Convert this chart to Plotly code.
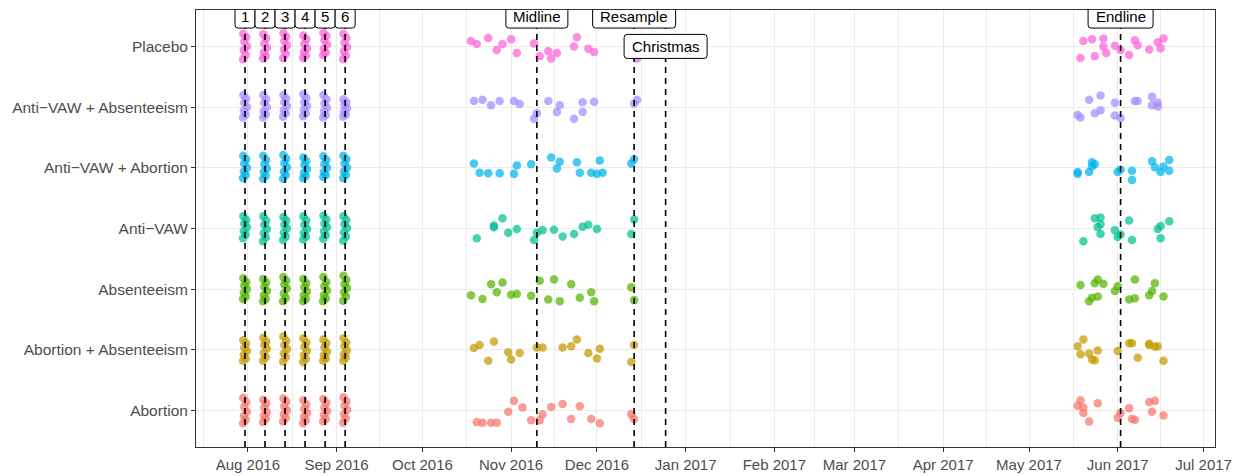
"""Jittered survey-visit timeline by treatment arm, with event markers."""

import pandas as pd
import plotly.graph_objects as go

# ── Data ─────────────────────────────────────────────────────────────────────
CATEGORIES = [
    "Abortion",
    "Abortion + Absenteeism",
    "Absenteeism",
    "Anti\u2212VAW",
    "Anti\u2212VAW + Abortion",
    "Anti\u2212VAW + Absenteeism",
    "Placebo",
]
COLORS = ["#F8766D", "#C49A00", "#53B400", "#00C094", "#00B6EB", "#A58AFF", "#FB61D7"]

EPISODE_DATES = ["2016-07-31", "2016-08-07", "2016-08-14", "2016-08-21", "2016-08-28", "2016-09-04"]
EVENT_LABELS = ["1", "2", "3", "4", "5", "6", "Midline", "Resample", "Christmas", "Endline"]
EVENT_DATES = EPISODE_DATES + ["2016-11-10", "2016-12-14", "2016-12-25", "2017-06-02"]

# small horizontal spread (hours) of the 7 screening visits in each episode column
EPISODE_HOURS = [-14, 10, -6, 16, -10, 6, -16]

# vertical jitter of the screening visits, one list per episode
ABORTION_EPISODES = [
    [0.21, 0.14, 0.06, -0.02, -0.09, -0.15, -0.21],
    [0.18, 0.12, 0.05, -0.03, -0.08, -0.14, -0.19],
    [0.2, 0.15, 0.07, 0.0, -0.06, -0.12, -0.18],
    [0.17, 0.1, 0.03, -0.04, -0.1, -0.16, -0.21],
    [0.19, 0.13, 0.05, -0.01, -0.07, -0.14, -0.18],
    [0.22, 0.15, 0.08, 0.01, -0.06, -0.13, -0.2],
]
ABO_ABS_EPISODES = [
    [0.16, 0.1, 0.04, -0.02, -0.08, -0.14, -0.18],
    [0.2, 0.14, 0.08, 0.02, -0.05, -0.12, -0.18],
    [0.22, 0.15, 0.08, 0.01, -0.06, -0.12, -0.19],
    [0.19, 0.12, 0.05, -0.02, -0.09, -0.15, -0.2],
    [0.17, 0.11, 0.04, -0.03, -0.09, -0.14, -0.18],
    [0.19, 0.12, 0.06, -0.01, -0.07, -0.13, -0.18],
]
ABSENTEEISM_EPISODES = [
    [0.18, 0.12, 0.06, 0.0, -0.06, -0.12, -0.16],
    [0.17, 0.11, 0.04, -0.03, -0.1, -0.16, -0.2],
    [0.2, 0.14, 0.08, 0.01, -0.07, -0.14, -0.2],
    [0.17, 0.1, 0.03, -0.04, -0.1, -0.16, -0.2],
    [0.2, 0.12, 0.05, -0.02, -0.1, -0.15, -0.2],
    [0.22, 0.15, 0.08, 0.02, -0.05, -0.12, -0.19],
]
ANTI_VAW_EPISODES = [
    [0.2, 0.14, 0.08, 0.02, -0.04, -0.1, -0.16],
    [0.2, 0.13, 0.06, -0.01, -0.08, -0.15, -0.21],
    [0.19, 0.13, 0.06, 0.0, -0.07, -0.13, -0.19],
    [0.2, 0.13, 0.06, -0.01, -0.07, -0.13, -0.18],
    [0.21, 0.15, 0.08, 0.02, -0.05, -0.11, -0.17],
    [0.2, 0.14, 0.07, 0.01, -0.06, -0.13, -0.2],
]
AVAW_ABO_EPISODES = [
    [0.2, 0.14, 0.07, 0.0, -0.06, -0.12, -0.17],
    [0.2, 0.13, 0.06, -0.01, -0.07, -0.13, -0.18],
    [0.21, 0.15, 0.08, 0.01, -0.06, -0.12, -0.18],
    [0.17, 0.11, 0.05, -0.02, -0.08, -0.13, -0.17],
    [0.19, 0.13, 0.06, 0.0, -0.07, -0.12, -0.15],
    [0.2, 0.14, 0.07, 0.0, -0.06, -0.12, -0.17],
]
AVAW_ABS_EPISODES = [
    [0.2, 0.14, 0.07, 0.0, -0.06, -0.12, -0.17],
    [0.2, 0.13, 0.07, 0.0, -0.07, -0.12, -0.17],
    [0.2, 0.14, 0.08, 0.02, -0.05, -0.1, -0.16],
    [0.21, 0.15, 0.08, 0.02, -0.04, -0.1, -0.15],
    [0.2, 0.13, 0.06, -0.01, -0.07, -0.13, -0.17],
    [0.13, 0.08, 0.03, -0.02, -0.07, -0.12, -0.16],
]
PLACEBO_EPISODES = [
    [0.21, 0.15, 0.08, 0.0, -0.06, -0.14, -0.21],
    [0.2, 0.13, 0.05, -0.02, -0.1, -0.16, -0.2],
    [0.22, 0.16, 0.09, 0.02, -0.05, -0.12, -0.19],
    [0.18, 0.12, 0.04, -0.03, -0.09, -0.15, -0.19],
    [0.22, 0.17, 0.1, 0.03, -0.04, -0.1, -0.14],
    [0.21, 0.14, 0.06, -0.01, -0.08, -0.15, -0.21],
]

# midline + endline visits: date and vertical jitter
ABORTION_DATES = [
    "2016-10-20", "2016-10-22", "2016-10-25", "2016-10-27", "2016-10-31", "2016-11-02",
    "2016-11-05", "2016-11-08", "2016-11-11", "2016-11-12", "2016-11-15", "2016-11-19",
    "2016-11-22", "2016-11-25", "2016-11-29", "2016-12-02", "2016-12-13", "2016-12-14",
    "2017-05-19", "2017-05-18", "2017-05-20", "2017-05-20", "2017-05-22", "2017-05-25",
    "2017-06-01", "2017-06-02", "2017-06-05", "2017-06-06", "2017-06-07", "2017-06-12",
    "2017-06-14", "2017-06-13", "2017-06-17",
]
ABORTION_JITTER = [
    -0.19, -0.2, -0.2, -0.2, -0.02, 0.16, 0.05, -0.16, -0.16, -0.06, 0.06, 0.11,
    -0.14, 0.07, -0.14, -0.21, -0.06, -0.14,
    0.17, 0.08, 0.05, -0.04, -0.18, 0.12, -0.12, -0.04, 0.04, -0.14, -0.15, 0.14,
    0.16, -0.02, -0.08,
]
ABO_ABS_DATES = [
    "2016-10-19", "2016-10-21", "2016-10-24", "2016-10-26", "2016-10-31", "2016-11-01",
    "2016-11-04", "2016-11-10", "2016-11-12", "2016-11-19", "2016-11-22", "2016-11-24",
    "2016-11-28", "2016-12-01", "2016-12-02", "2016-12-13", "2016-12-14",
    "2017-05-18", "2017-05-20", "2017-05-19", "2017-05-22", "2017-05-25", "2017-05-23",
    "2017-05-24", "2017-06-01", "2017-06-05", "2017-06-06", "2017-06-12", "2017-06-12",
    "2017-06-14", "2017-06-15", "2017-06-08", "2017-06-17",
]
ABO_ABS_JITTER = [
    0.03, 0.08, -0.18, 0.14, -0.04, -0.16, -0.05, 0.04, 0.04, 0.04, 0.06, 0.17,
    -0.05, -0.14, 0.02, -0.2, 0.08,
    0.06, 0.17, -0.07, -0.06, -0.01, -0.16, -0.17, -0.02, 0.11, 0.11, 0.1, 0.08,
    0.05, 0.06, -0.13, -0.18,
]
ABSENTEEISM_DATES = [
    "2016-10-18", "2016-10-22", "2016-10-25", "2016-10-27", "2016-10-29", "2016-11-01",
    "2016-11-03", "2016-11-08", "2016-11-11", "2016-11-14", "2016-11-16", "2016-11-18",
    "2016-11-22", "2016-11-25", "2016-11-29", "2016-11-30", "2016-12-13", "2016-12-14",
    "2017-05-19", "2017-05-24", "2017-05-25", "2017-05-27", "2017-05-22", "2017-05-23",
    "2017-05-25", "2017-05-31", "2017-06-01", "2017-06-05", "2017-06-07", "2017-06-07",
    "2017-06-12", "2017-06-13", "2017-06-14", "2017-06-17",
]
ABSENTEEISM_JITTER = [
    -0.1, -0.16, 0.08, -0.05, 0.11, -0.09, -0.08, -0.11, 0.14, -0.17, 0.16, -0.2,
    0.08, -0.14, -0.05, -0.2, 0.03, -0.18,
    0.07, 0.1, 0.16, 0.09, -0.2, -0.14, -0.12, -0.03, 0.05, -0.17, -0.15, 0.16,
    -0.1, -0.03, 0.1, -0.12,
]
ANTI_VAW_DATES = [
    "2016-10-20", "2016-10-26", "2016-10-26", "2016-10-29", "2016-10-31", "2016-11-03",
    "2016-11-09", "2016-11-10", "2016-11-12", "2016-11-16", "2016-11-19", "2016-11-23",
    "2016-11-26", "2016-11-28", "2016-12-01", "2016-12-13", "2016-12-14",
    "2017-05-20", "2017-05-24", "2017-05-26", "2017-05-26", "2017-05-25", "2017-05-26",
    "2017-05-31", "2017-06-01", "2017-06-02", "2017-06-05", "2017-06-06", "2017-06-15",
    "2017-06-16", "2017-06-16", "2017-06-19",
]
ANTI_VAW_JITTER = [
    -0.16, 0.05, 0.02, 0.17, -0.07, -0.01, -0.19, -0.07, -0.03, -0.02, -0.13, -0.09,
    0.03, 0.06, -0.01, -0.09, 0.15,
    -0.21, 0.17, 0.18, 0.07, 0.02, -0.09, -0.03, -0.14, -0.1, 0.13, -0.19, -0.01,
    0.04, -0.16, 0.12,
]
AVAW_ABO_DATES = [
    "2016-10-19", "2016-10-21", "2016-10-24", "2016-10-28", "2016-11-02", "2016-11-03",
    "2016-11-08", "2016-11-15", "2016-11-17", "2016-11-18", "2016-11-24", "2016-11-25",
    "2016-11-29", "2016-12-01", "2016-12-02", "2016-12-03", "2016-12-13", "2016-12-14",
    "2017-05-18", "2017-05-18", "2017-05-22", "2017-05-23", "2017-05-23", "2017-05-24",
    "2017-06-01", "2017-06-02", "2017-06-06", "2017-06-06", "2017-06-13", "2017-06-14",
    "2017-06-16", "2017-06-17", "2017-06-19", "2017-06-19",
]
AVAW_ABO_JITTER = [
    0.07, -0.08, -0.09, -0.09, -0.1, 0.04, 0.06, 0.17, -0.01, 0.1, 0.09, -0.08,
    -0.08, -0.1, 0.12, -0.08, 0.07, 0.14,
    -0.07, -0.1, -0.07, 0.02, 0.09, 0.06, -0.07, -0.03, -0.05, -0.2, 0.11, 0.01,
    -0.07, 0.02, 0.13, -0.05,
]
AVAW_ABS_DATES = [
    "2016-10-19", "2016-10-22", "2016-10-25", "2016-10-28", "2016-11-02", "2016-11-04",
    "2016-11-09", "2016-11-10", "2016-11-14", "2016-11-17", "2016-11-18", "2016-11-23",
    "2016-11-26", "2016-11-26", "2016-11-30", "2016-12-14", "2016-12-15",
    "2017-05-18", "2017-05-19", "2017-05-22", "2017-05-24", "2017-05-26", "2017-05-26",
    "2017-05-31", "2017-05-31", "2017-06-02", "2017-06-07", "2017-06-08", "2017-06-13",
    "2017-06-13", "2017-06-15", "2017-06-15",
]
AVAW_ABS_JITTER = [
    0.1, 0.12, 0.03, 0.1, 0.1, 0.05, -0.19, -0.1, 0.1, -0.08, 0.03, -0.19,
    -0.08, 0.08, 0.09, 0.06, 0.12,
    -0.13, -0.17, 0.12, -0.1, 0.19, -0.05, 0.07, -0.14, -0.18, 0.1, 0.1, 0.17,
    0.03, 0.07, 0.01,
]
PLACEBO_DATES = [
    "2016-10-18", "2016-10-20", "2016-10-24", "2016-10-27", "2016-10-29", "2016-11-01",
    "2016-11-03", "2016-11-09", "2016-11-11", "2016-11-14", "2016-11-15", "2016-11-17",
    "2016-11-23", "2016-11-24", "2016-11-28", "2016-11-30", "2016-12-15",
    "2017-05-20", "2017-05-23", "2017-05-27", "2017-05-27", "2017-05-28", "2017-05-31",
    "2017-06-02", "2017-06-05", "2017-06-07", "2017-06-08", "2017-06-12", "2017-06-15",
    "2017-06-16", "2017-06-17", "2017-05-19", "2017-05-24",
]
PLACEBO_JITTER = [
    0.09, 0.04, 0.14, -0.06, 0.04, 0.12, -0.11, 0.05, -0.16, -0.08, -0.2, -0.11,
    0.0, 0.15, -0.04, -0.09, -0.2,
    0.09, 0.12, 0.13, 0.0, -0.11, 0.01, -0.06, -0.14, 0.1, 0.02, -0.05, 0.07,
    -0.03, 0.13, -0.19, -0.16,
]

SERIES = [
    (ABORTION_EPISODES, ABORTION_DATES, ABORTION_JITTER),
    (ABO_ABS_EPISODES, ABO_ABS_DATES, ABO_ABS_JITTER),
    (ABSENTEEISM_EPISODES, ABSENTEEISM_DATES, ABSENTEEISM_JITTER),
    (ANTI_VAW_EPISODES, ANTI_VAW_DATES, ANTI_VAW_JITTER),
    (AVAW_ABO_EPISODES, AVAW_ABO_DATES, AVAW_ABO_JITTER),
    (AVAW_ABS_EPISODES, AVAW_ABS_DATES, AVAW_ABS_JITTER),
    (PLACEBO_EPISODES, PLACEBO_DATES, PLACEBO_JITTER),
]

# ── Styling ──────────────────────────────────────────────────────────────────
FONT = "Liberation Sans, Arial, Helvetica, sans-serif"
GRID = "#EBEBEB"
FRAME = "#333333"
# label -> (y level on the category axis, half box width in px)
LABEL_BOX = {
    "1": (7.5, 10), "2": (7.5, 10), "3": (7.5, 10), "4": (7.5, 10),
    "5": (7.5, 10), "6": (7.5, 10),
    "Midline": (7.5, 31), "Resample": (7.5, 41.5),
    "Christmas": (7.0, 41.5), "Endline": (7.5, 32.5),
}


def _round_box(w: float, h: float, r: float = 3) -> str:
    """SVG path of a rounded rectangle centred on the anchor (pixel units)."""
    return (
        f"M {-w + r},{-h} L {w - r},{-h} Q {w},{-h} {w},{-h + r} "
        f"L {w},{h - r} Q {w},{h} {w - r},{h} L {-w + r},{h} "
        f"Q {-w},{h} {-w},{h - r} L {-w},{-h + r} Q {-w},{-h} {-w + r},{-h} Z"
    )


fig = go.Figure()

for level, (cat, color, (episodes, dates, jitter)) in enumerate(
    zip(CATEGORIES, COLORS, SERIES), start=1
):
    xs, ys = [], []
    for ep_date, offsets in zip(EPISODE_DATES, episodes):
        base = pd.Timestamp(ep_date)
        xs += [base + pd.Timedelta(hours=h) for h in EPISODE_HOURS[: len(offsets)]]
        ys += [level + o for o in offsets]
    xs += list(pd.to_datetime(dates))
    ys += [level + o for o in jitter]
    fig.add_trace(go.Scatter(
        x=xs,
        y=ys,
        mode="markers",
        marker={"size": 8.5, "color": color, "opacity": 0.72, "line": {"width": 0}},
        name=cat,
        showlegend=False,
    ))

# ── Event lines + labels ─────────────────────────────────────────────────────
for label, date in zip(EVENT_LABELS, EVENT_DATES):
    fig.add_shape(
        type="line", xref="x", yref="paper",
        x0=date, x1=date, y0=0, y1=1,
        line={"color": "black", "width": 1.6, "dash": "6px,5px"},
        layer="above",
    )

for label, date in zip(EVENT_LABELS, EVENT_DATES):
    ylev, half_w = LABEL_BOX[label]
    fig.add_shape(
        type="path", xref="x", yref="y",
        xsizemode="pixel", ysizemode="pixel",
        xanchor=date, yanchor=ylev,
        path=_round_box(half_w, 12),
        fillcolor="white",
        line={"color": "black", "width": 1},
        layer="above",
    )
    fig.add_annotation(
        x=date, y=ylev, xref="x", yref="y",
        text=label, showarrow=False,
        font={"size": 15, "color": "black", "family": FONT},
    )

# ── Axes ─────────────────────────────────────────────────────────────────────
month_starts = pd.date_range("2016-07-01", "2017-08-01", freq="MS")
minor_vals = [a + (b - a) / 2 for a, b in zip(month_starts[:-1], month_starts[1:])]

fig.update_layout(
    width=1233,
    height=476,
    margin={"l": 196, "r": 18, "t": 10, "b": 29},
    paper_bgcolor="white",
    plot_bgcolor="white",
    font={"family": FONT, "size": 15, "color": "#4D4D4D"},
    showlegend=False,
    xaxis={
        "type": "date",
        "automargin": False,
        "range": ["2016-07-13 21:00", "2017-07-05 00:00"],
        "tickmode": "array",
        "tickvals": list(month_starts[1:-1]),
        "tickformat": "%b %Y",
        "ticks": "outside",
        "ticklen": 4,
        "tickcolor": FRAME,
        "showgrid": True,
        "gridcolor": GRID,
        "gridwidth": 1.1,
        "minor": {
            "tickmode": "array",
            "tickvals": minor_vals,
            "showgrid": True,
            "gridcolor": GRID,
            "gridwidth": 0.6,
        },
        "showline": True,
        "mirror": True,
        "linecolor": FRAME,
        "linewidth": 1,
        "zeroline": False,
    },
    yaxis={
        "automargin": False,
        "range": [0.4, 7.6],
        "tickmode": "array",
        "tickvals": list(range(1, len(CATEGORIES) + 1)),
        "ticktext": CATEGORIES,
        "tickfont": {"size": 15.5},
        "ticks": "outside",
        "ticklen": 4,
        "tickcolor": FRAME,
        "showgrid": True,
        "gridcolor": GRID,
        "gridwidth": 1.1,
        "showline": True,
        "mirror": True,
        "linecolor": FRAME,
        "linewidth": 1,
        "zeroline": False,
    },
)

fig.write_html(
    "out.html",
    config={"displayModeBar": False},
    post_script="document.body.style.margin = '0';",
)
